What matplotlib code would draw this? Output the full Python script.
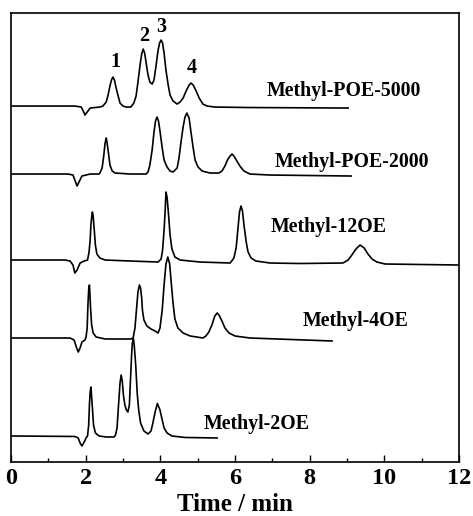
import numpy as np
import matplotlib
matplotlib.use("Agg")
import matplotlib.pyplot as plt
from matplotlib.ticker import MultipleLocator

plt.rcParams['font.family'] = ['Liberation Serif', 'DejaVu Serif']
plt.rcParams['font.weight'] = 'bold'

# chromatogram traces (time in min, stacked signal in a.u.)
t_poe5000 = [0.00, 1.71, 1.88, 1.96, 1.98, 2.04, 2.12, 2.38,
             2.46, 2.55, 2.60, 2.65, 2.69, 2.73, 2.77, 2.81, 2.87, 2.92, 3.00, 3.08,
             3.21, 3.29, 3.35, 3.40, 3.46, 3.50, 3.54, 3.58, 3.62, 3.67, 3.72, 3.78,
             3.83, 3.88, 3.94, 3.98, 4.02, 4.06, 4.10, 4.15, 4.21, 4.26, 4.34, 4.45,
             4.53, 4.61, 4.69, 4.77, 4.82, 4.88, 4.96, 5.04, 5.14, 5.25, 5.46, 6.40, 9.03]
s_poe5000 = [355, 355, 354, 348, 346, 349, 353, 354,
             355, 359, 366, 375, 381, 384, 381, 374, 365, 358, 355, 354,
             354, 358, 365, 379, 397, 407, 412, 408, 398, 386, 379, 377,
             381, 394, 411, 418, 421, 418, 408, 391, 376, 366, 360, 357,
             359, 363, 370, 376, 378, 376, 370, 363, 357, 355, 354, 353.5, 353]

t_poe2000 = [0.00, 1.53, 1.66, 1.71, 1.77, 1.82, 1.90, 2.12, 2.36,
             2.38, 2.44, 2.48, 2.52, 2.55, 2.57, 2.61, 2.65, 2.71, 2.79,
             3.19, 3.62,
             3.67, 3.72, 3.78, 3.83, 3.87, 3.91, 3.95, 3.99, 4.05, 4.10, 4.18, 4.26, 4.34,
             4.45, 4.50, 4.55, 4.61, 4.66, 4.71, 4.77, 4.82, 4.88, 4.93, 5.01, 5.12, 5.33, 5.57,
             5.65, 5.73, 5.81, 5.87, 5.92, 5.97, 6.05, 6.13, 6.24, 6.40, 6.94, 9.11]
s_poe2000 = [287, 287, 286, 281, 275, 279, 285, 287, 287,
             288, 293, 304, 318, 323, 319, 308, 296, 290, 288,
             287, 287,
             289, 296, 311, 329, 340, 344, 340, 330, 313, 301, 294, 290, 289,
             293, 303, 318, 334, 344, 348, 343, 329, 313, 301, 294, 290, 288, 288,
             290, 295, 302, 305, 307, 305, 300, 295, 290, 287, 286, 285]

t_12oe = [0.00, 1.45, 1.58, 1.66, 1.71, 1.77, 1.85, 1.96, 2.05,
          2.09, 2.12, 2.14, 2.17, 2.18, 2.20, 2.23, 2.26, 2.30, 2.38, 2.52, 3.19, 3.94,
          4.02, 4.06, 4.10, 4.13, 4.15, 4.18, 4.22, 4.26, 4.31, 4.39, 4.53, 5.06,
          5.87, 5.97, 6.03, 6.08, 6.12, 6.16, 6.20, 6.24, 6.30, 6.35, 6.43, 6.56, 6.94, 7.74,
          8.89, 9.03, 9.13, 9.24, 9.35, 9.46, 9.56, 9.67, 9.80, 10.02, 12.0]
s_12oe = [201, 201, 200, 196, 188, 191, 198, 200, 201,
          209, 221, 236, 247, 249, 245, 231, 216, 207, 203, 201, 200, 199,
          202, 211, 231, 251, 269, 264, 246, 226, 212, 204, 201, 199,
          198, 203, 213, 233, 249, 255, 250, 236, 219, 209, 203, 200, 198, 197.5,
          198, 201, 206, 212, 216, 213, 207, 202, 199, 197, 196]

t_4oe = [0.00, 1.58, 1.69, 1.74, 1.80, 1.85, 1.90, 1.98,
         2.01, 2.04, 2.06, 2.08, 2.10, 2.11, 2.13, 2.16, 2.20, 2.28, 2.52, 3.21,
         3.27, 3.32, 3.36, 3.40, 3.44, 3.47, 3.50, 3.52, 3.56, 3.64, 3.75, 3.86, 3.94,
         3.99, 4.05, 4.10, 4.15, 4.20, 4.25, 4.29, 4.34, 4.39, 4.47, 4.61, 4.80, 5.14,
         5.22, 5.30, 5.38, 5.46, 5.52, 5.57, 5.65, 5.73, 5.84, 6.00, 6.40, 8.60]
s_4oe = [123, 123, 121, 115, 109, 113, 119, 121,
         124, 133, 156, 171, 176, 170, 153, 136, 128, 124, 122, 122,
         123, 133, 151, 169, 176, 173, 163, 151, 141, 135, 132, 130, 128,
         133, 151, 176, 197, 204, 197, 179, 158, 142, 133, 128, 125, 123,
         125, 129, 136, 145, 148, 146, 140, 133, 128, 125, 123, 120]

t_2oe = [0.00, 1.71, 1.80, 1.85, 1.90, 1.96, 2.01,
         2.05, 2.08, 2.10, 2.12, 2.14, 2.15, 2.18, 2.21, 2.26, 2.36, 2.55, 2.76,
         2.80, 2.84, 2.88, 2.92, 2.95, 2.98, 3.01, 3.05, 3.09, 3.13,
         3.17, 3.20, 3.23, 3.25, 3.28, 3.30, 3.34, 3.38, 3.42, 3.47, 3.56, 3.67,
         3.75, 3.80, 3.86, 3.92, 3.99, 4.05, 4.10, 4.18, 4.31, 4.66, 5.52]
s_2oe = [25, 24.5, 23, 18, 15, 19, 23,
         25, 36, 56, 69, 74, 69, 53, 36, 28, 25, 24, 24,
         26, 33, 56, 78, 86, 80, 66, 56, 51, 49,
         56, 81, 106, 118, 122, 116, 96, 68, 51, 38, 30, 27,
         30, 38, 49, 57.5, 51, 41, 33, 28, 25, 23.5, 23]

names = ['Methyl-POE-5000', 'Methyl-POE-2000', 'Methyl-12OE', 'Methyl-4OE', 'Methyl-2OE']
label_t = [6.86, 7.07, 6.96, 7.82, 5.17]
label_s = [370, 299, 234, 140, 37]

peak_nums = ['1', '2', '3', '4']
peak_t = [2.79, 3.56, 4.02, 4.85]
peak_s = [399, 425, 434, 393]

traces = [(t_poe5000, s_poe5000), (t_poe2000, s_poe2000), (t_12oe, s_12oe),
          (t_4oe, s_4oe), (t_2oe, s_2oe)]

fig = plt.figure(figsize=(4.73, 5.16), dpi=100)
ax = fig.add_axes([0.0233, 0.1047, 0.9471, 0.870])

for t, s in traces:
    ax.plot(t, s, color='black', lw=1.2)

for name, x, y in zip(names, label_t, label_s):
    ax.text(x, y, name, fontsize=14.3, fontweight='bold', ha='left', va='center')

for n, x, y in zip(peak_nums, peak_t, peak_s):
    ax.text(x, y, n, fontsize=14.5, fontweight='bold', ha='center', va='center')

ax.set_xlim(0, 12)
ax.set_ylim(-1, 448)
ax.xaxis.set_major_locator(MultipleLocator(2))
ax.xaxis.set_minor_locator(MultipleLocator(1))
ax.tick_params(axis='x', which='major', direction='in', length=5, width=1.0,
               labelsize=17.5, pad=4)
ax.tick_params(axis='x', which='minor', direction='in', length=3, width=1.0)
ax.set_yticks([])
for sp in ax.spines.values():
    sp.set_linewidth(1.2)
ax.set_xlabel('Time / min', fontsize=18, fontweight='bold', labelpad=3)

fig.savefig('out.png', dpi=100)
